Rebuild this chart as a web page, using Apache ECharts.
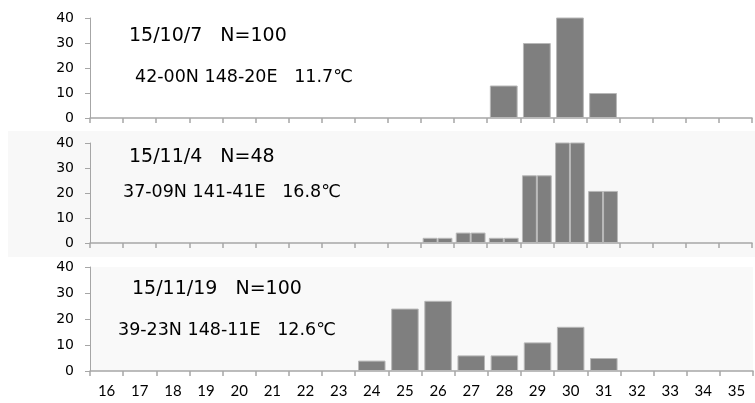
<!DOCTYPE html>
<html>
<head>
<meta charset="utf-8">
<script src="https://cdn.jsdelivr.net/npm/echarts@6/dist/echarts.min.js"></script>
<style>html,body{margin:0;padding:0;background:#fff}#c{width:755px;height:403px}</style>
</head>
<body>
<div id="c"></div>
<script>
const categories = ['16','17','18','19','20','21','22','23','24','25','26','27','28','29','30','31','32','33','34','35'];
const yTicks = [0, 10, 20, 30, 40];
// panel 1: 15/10/7 N=100 (percent)
const panel1Values = [null,null,null,null,null,null,null,null,null,null,null,null,13,30,47,10,null,null,null,null];
// panel 2: 15/11/4 N=48 (percent)
const panel2Values = [null,null,null,null,null,null,null,null,null,null,2.08,4.17,2.08,27.08,43.75,20.83,null,null,null,null];
// panel 3: 15/11/19 N=100 (percent)
const panel3Values = [null,null,null,null,null,null,null,null,4,24,27,6,6,11,17,5,null,null,null,null];
const titles = ['15/10/7   N=100', '15/11/4   N=48', '15/11/19   N=100'];
const subtitles = ['42-00N 148-20E   11.7\u2103', '37-09N 141-41E   16.8\u2103', '39-23N 148-11E   12.6\u2103'];

const chart = echarts.init(document.getElementById('c'), null, {renderer: 'canvas'});
const axisGray = '#a6a6a6';
const yFont = 'DejaVu Sans';
const grids = [
  {left: 90, right: 3, top: 18, height: 100},
  {left: 90, right: 3, top: 143, height: 100},
  {left: 90, right: 2, top: 267, height: 104, show: true, backgroundColor: '#f9f9f9', borderWidth: 0}
];
function xAxis(i, showLabels) {
  return {
    type: 'category', gridIndex: i, data: categories, boundaryGap: true,
    axisLine: {show: true, lineStyle: {color: axisGray, width: 1.5}},
    axisTick: {show: true, length: 5, alignWithLabel: false, interval: 0, lineStyle: {color: axisGray, width: 1.5}},
    axisLabel: {show: showLabels, interval: 0, margin: 13, color: '#000', fontFamily: 'Lato', fontSize: 15},
    splitLine: {show: false}
  };
}
function yAxis(i) {
  return {
    type: 'value', gridIndex: i, min: yTicks[0], max: yTicks[yTicks.length - 1], interval: 10,
    axisLine: {show: true, lineStyle: {color: axisGray, width: 1}},
    axisTick: {show: true, length: 5, lineStyle: {color: axisGray, width: 1}},
    axisLabel: {margin: 16, color: '#000', fontFamily: yFont, fontSize: 14},
    splitLine: {show: false}
  };
}
const barStyle = {color: '#7f7f7f', borderColor: '#b8b8b8', borderWidth: 1};
const titlePos = [[129, 36, 135, 77], [129, 157, 123, 192], [132, 289, 118, 330]];
const graphics = [
  {type: 'rect', z: -10, silent: true, shape: {x: 8, y: 131, width: 747, height: 126}, style: {fill: '#f8f8f8'}}
];
titlePos.forEach((p, i) => {
  graphics.push({type: 'text', x: p[0], y: p[1], z: 10, style: {text: titles[i], font: '19px "DejaVu Sans"', fill: '#000', verticalAlign: 'middle', align: 'left'}});
  graphics.push({type: 'text', x: p[2], y: p[3], z: 10, style: {text: subtitles[i], font: '17.5px "DejaVu Sans"', fill: '#000', verticalAlign: 'middle', align: 'left'}});
});
chart.setOption({
  animation: false,
  backgroundColor: '#fff',
  grid: grids,
  xAxis: [xAxis(0, false), xAxis(1, false), xAxis(2, true)],
  yAxis: [yAxis(0), yAxis(1), yAxis(2)],
  graphic: graphics,
  series: [
    {type: 'bar', xAxisIndex: 0, yAxisIndex: 0, data: panel1Values, barCategoryGap: '16%', itemStyle: barStyle, clip: true},
    {type: 'bar', xAxisIndex: 1, yAxisIndex: 1, data: panel2Values, barGap: '0%', barCategoryGap: '10%', itemStyle: barStyle, clip: true},
    {type: 'bar', xAxisIndex: 1, yAxisIndex: 1, data: panel2Values, barGap: '0%', barCategoryGap: '10%', itemStyle: barStyle, clip: true},
    {type: 'bar', xAxisIndex: 2, yAxisIndex: 2, data: panel3Values, barCategoryGap: '17%', itemStyle: barStyle, clip: true}
  ]
});
</script>
</body>
</html>
